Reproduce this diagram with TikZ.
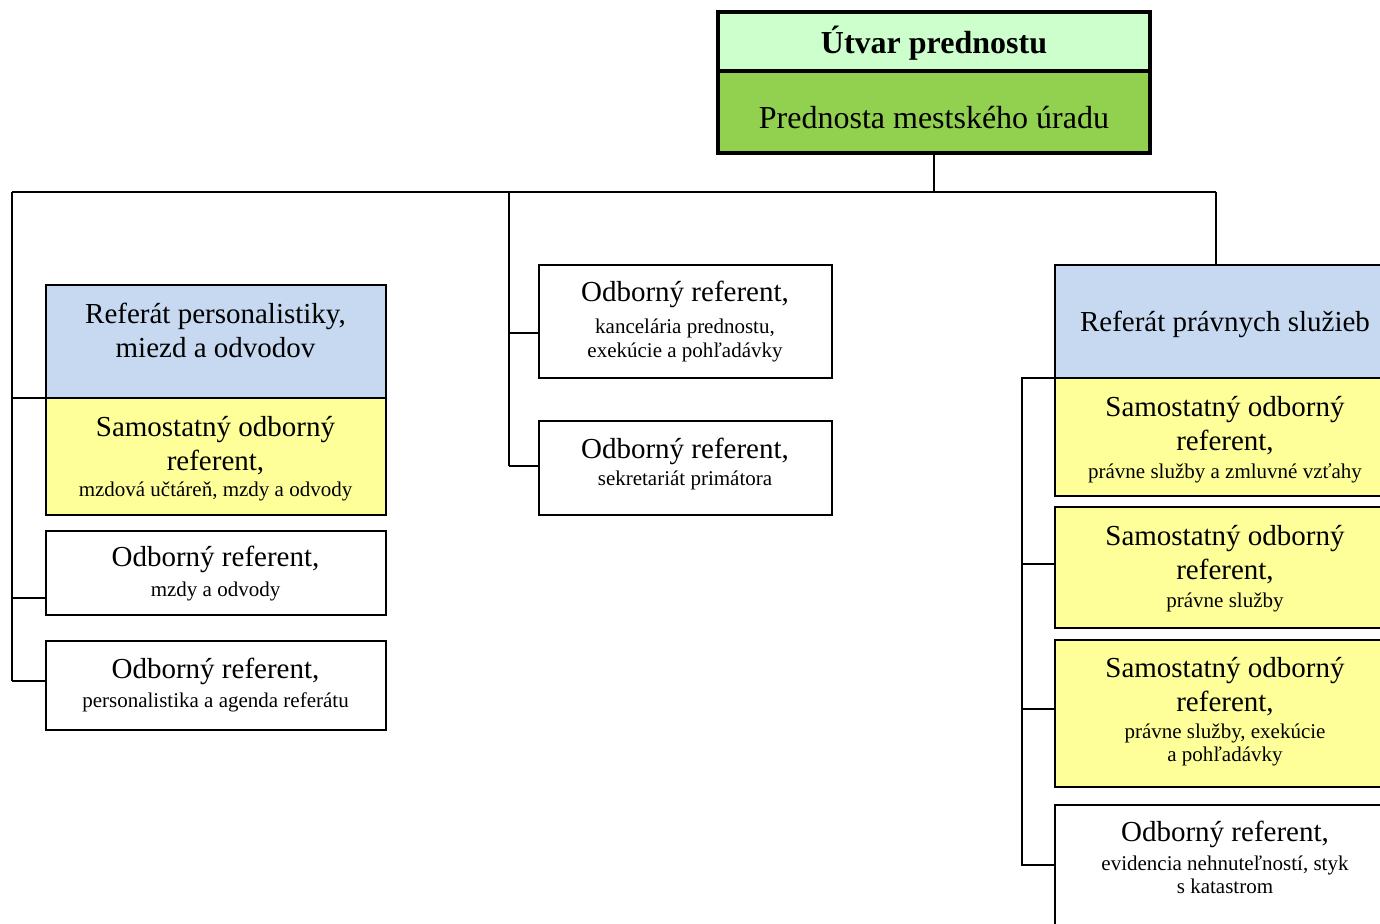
\documentclass[tikz,border=0pt]{standalone}
\usepackage{fontspec}
\setmainfont{Liberation Serif}
\definecolor{lgreen}{HTML}{CCFFCC}
\definecolor{dgreen}{HTML}{92D050}
\definecolor{lblue}{HTML}{C6D9F1}
\definecolor{lyellow}{HTML}{FFFF99}
\tikzset{
  box/.style={draw=black, line width=1.8pt, rectangle, inner sep=0pt, outer sep=0pt, anchor=north west},
  topbox/.style={box, line width=3.5pt},
  conn/.style={draw=black, line width=1.6pt},
  mainline/.style={font=\fontsize{29}{34}\selectfont, anchor=base, inner sep=0pt},
  smline/.style={font=\fontsize{21}{24}\selectfont, anchor=base, inner sep=0pt},
  topline/.style={font=\fontsize{32}{36}\selectfont, anchor=base, inner sep=0pt},
}
\begin{document}
\begin{tikzpicture}[x=1pt, y=-1pt]
\clip (0,0) rectangle (1380,923);
\fill[white] (0,0) rectangle (1380,923);

% boxes
\node[topbox, fill=lgreen, minimum width=432pt, minimum height=59pt] (top1) at (718,12) {};
\node[topbox, fill=dgreen, minimum width=432pt, minimum height=82pt] (top2) at (718,71) {};

\node[box, fill=lblue, minimum width=340pt, minimum height=113pt] (lb) at (46,285) {};
\node[box, fill=lyellow, minimum width=340pt, minimum height=117pt] (ly) at (46,398) {};
\node[box, fill=white, minimum width=340pt, minimum height=84pt] (l3) at (46,531) {};
\node[box, fill=white, minimum width=340pt, minimum height=89pt] (l4) at (46,641) {};

\node[box, fill=white, minimum width=293pt, minimum height=113pt] (m1) at (539,265) {};
\node[box, fill=white, minimum width=293pt, minimum height=94pt] (m2) at (539,421) {};

\node[box, fill=lblue, minimum width=345pt, minimum height=113pt] (rb) at (1055,265) {};
\node[box, fill=lyellow, minimum width=345pt, minimum height=118pt] (ry1) at (1055,378) {};
\node[box, fill=lyellow, minimum width=345pt, minimum height=121pt] (ry2) at (1055,507) {};
\node[box, fill=lyellow, minimum width=345pt, minimum height=147pt] (ry3) at (1055,640) {};
\node[box, fill=white, minimum width=345pt, minimum height=140pt] (rw) at (1055,805) {};

% connector coordinates
\coordinate (busL) at (12,192);
\coordinate (busR) at (1216,192);
\coordinate (busM) at (509,192);
\coordinate (lEnd) at (12,681);
\coordinate (c3) at (46,598);
\coordinate (c4) at (46,681);
\coordinate (cm1) at (539,333);
\coordinate (cm2) at (539,466);
\coordinate (rTop) at (1022,378);
\coordinate (cr2) at (1055,564);
\coordinate (cr3) at (1055,709);
\coordinate (cr4) at (1055,865);

% connectors
\draw[conn] (top2.south) -- (top2.south |- busL);
\draw[conn] (busL) -- (busR);
\draw[conn] (busR) -- (busR |- rb.north);
\draw[conn] (busL) -- (lEnd);
\draw[conn] (busL |- ly.north west) -- (ly.north west);
\draw[conn] (busL |- c3) -- (c3);
\draw[conn] (lEnd) -- (c4);
\draw[conn] (busM) -- (busM |- cm2);
\draw[conn] (busM |- cm1) -- (cm1);
\draw[conn] (busM |- cm2) -- (cm2);
\draw[conn] (ry1.north west) -- (rTop) -- (rTop |- cr4) -- (cr4);
\draw[conn] (rTop |- cr2) -- (cr2);
\draw[conn] (rTop |- cr3) -- (cr3);

% texts
\node[topline, font=\fontsize{32}{36}\selectfont\bfseries] (t1) at (934,53.3) {Útvar prednostu};
\node[topline] (t2) at (934,128.3) {Prednosta mestského úradu};

\node[mainline] (tl1) at (215.5,323.3) {Referát personalistiky,};
\node[mainline] (tl2) at (215.5,357.3) {miezd a odvodov};
\node[mainline] (tl3) at (215.5,436.7) {Samostatný odborný};
\node[mainline] (tl4) at (215.5,470) {referent,};
\node[smline] (tl5) at (215.5,496.7) {mzdová učtáreň, mzdy a odvody};
\node[mainline] (tl6) at (215.5,566.7) {Odborný referent,};
\node[smline] (tl7) at (215.5,596.7) {mzdy a odvody};
\node[mainline] (tl8) at (215.5,678.3) {Odborný referent,};
\node[smline] (tl9) at (215.5,707.7) {personalistika a agenda referátu};

\node[mainline] (tm1) at (685,301.7) {Odborný referent,};
\node[smline] (tm2) at (685,333.3) {kancelária prednostu,};
\node[smline] (tm3) at (685,357.3) {exekúcie a pohľadávky};
\node[mainline] (tm4) at (685,458.3) {Odborný referent,};
\node[smline] (tm5) at (685,485) {sekretariát primátora};

\node[mainline] (tr1) at (1225,331) {Referát právnych služieb};
\node[mainline] (tr2) at (1225,416.7) {Samostatný odborný};
\node[mainline] (tr3) at (1225,450.7) {referent,};
\node[smline] (tr4) at (1225,478.3) {právne služby a zmluvné vzťahy};
\node[mainline] (tr5) at (1225,545.7) {Samostatný odborný};
\node[mainline] (tr6) at (1225,579.7) {referent,};
\node[smline] (tr7) at (1225,607.3) {právne služby};
\node[mainline] (tr8) at (1225,677.3) {Samostatný odborný};
\node[mainline] (tr9) at (1225,711.7) {referent,};
\node[smline] (tr10) at (1225,738.3) {právne služby, exekúcie};
\node[smline] (tr11) at (1225,761.7) {a pohľadávky};
\node[mainline] (tr12) at (1225,841.7) {Odborný referent,};
\node[smline] (tr13) at (1225,870) {evidencia nehnuteľností, styk};
\node[smline] (tr14) at (1225,893.3) {s katastrom};
\end{tikzpicture}
\end{document}
